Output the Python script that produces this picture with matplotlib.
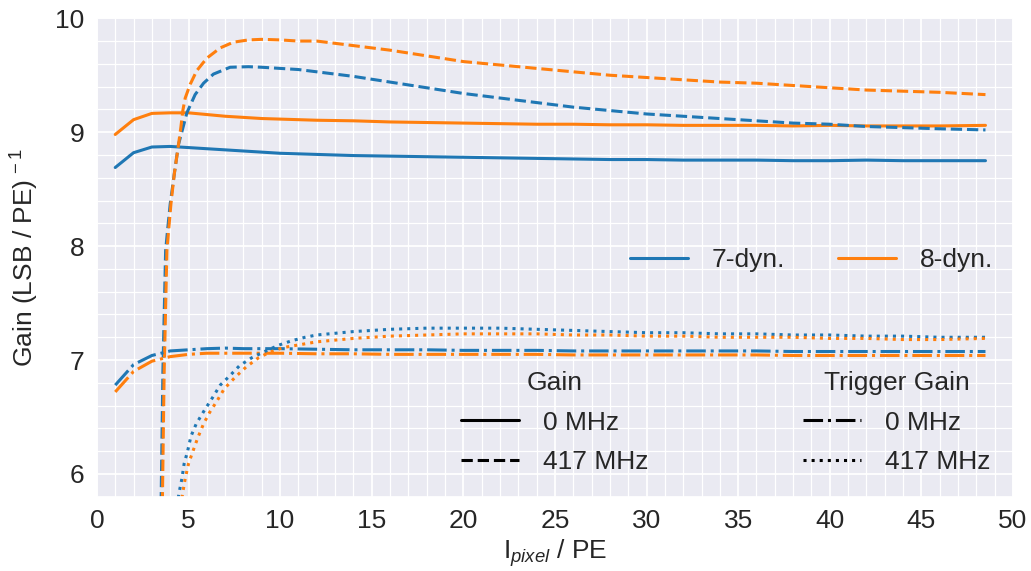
import matplotlib
matplotlib.use("Agg")
import matplotlib.pyplot as plt
from matplotlib.lines import Line2D
from matplotlib.ticker import MultipleLocator
import seaborn as sns

sns.set_theme(style="darkgrid")
plt.rcParams["font.family"] = ["Liberation Sans", "DejaVu Sans"]
plt.rcParams["mathtext.fontset"] = "custom"
plt.rcParams["mathtext.rm"] = "Liberation Sans"
plt.rcParams["mathtext.it"] = "Liberation Sans:italic"

FS = 19
BLUE = "#1f77b4"
ORANGE = "#ff7f0e"

# 0 MHz NSB: gain and trigger gain
x_0mhz = [1, 2, 3, 4, 5, 6, 7, 8, 9, 10, 12, 14, 16, 18, 20, 22, 24, 26, 28,
          30, 32, 34, 36, 38, 40, 42, 44, 46, 48.5]
gain_0_7dyn = [8.69, 8.82, 8.87, 8.875, 8.865, 8.855, 8.845, 8.835, 8.825, 8.815,
               8.805, 8.795, 8.79, 8.785, 8.78, 8.775, 8.77, 8.765, 8.76, 8.76,
               8.755, 8.755, 8.755, 8.75, 8.75, 8.755, 8.75, 8.75, 8.75]
gain_0_8dyn = [8.98, 9.11, 9.165, 9.17, 9.17, 9.155, 9.14, 9.13, 9.12, 9.115,
               9.105, 9.10, 9.09, 9.085, 9.08, 9.075, 9.07, 9.07, 9.065, 9.065,
               9.06, 9.06, 9.06, 9.055, 9.06, 9.055, 9.055, 9.055, 9.06]
trig_0_7dyn = [6.78, 6.96, 7.04, 7.08, 7.09, 7.10, 7.105, 7.10, 7.10, 7.10,
               7.095, 7.09, 7.09, 7.09, 7.085, 7.085, 7.085, 7.08, 7.08, 7.08,
               7.08, 7.08, 7.08, 7.075, 7.075, 7.075, 7.075, 7.075, 7.075]
trig_0_8dyn = [6.72, 6.90, 6.99, 7.03, 7.05, 7.06, 7.06, 7.06, 7.06, 7.06,
               7.055, 7.055, 7.05, 7.05, 7.05, 7.05, 7.05, 7.045, 7.045, 7.045,
               7.045, 7.045, 7.045, 7.04, 7.04, 7.04, 7.04, 7.04, 7.04]

# 417 MHz NSB: gain
x_gain_417_7dyn = [3.49, 3.60, 3.75, 3.85, 4.0, 4.22, 4.45, 4.91, 5.36, 5.82,
                   6.36, 7.27, 8.27, 9, 10, 11, 12, 14, 16, 18, 20, 22, 24, 26,
                   28, 30, 32, 34, 36, 38, 40, 42, 44, 46, 48.5]
gain_417_7dyn = [5.6, 6.89, 7.96, 8.13, 8.37, 8.63, 8.89, 9.17, 9.33, 9.43,
                 9.51, 9.57, 9.575, 9.57, 9.56, 9.55, 9.53, 9.49, 9.44, 9.39,
                 9.34, 9.30, 9.26, 9.22, 9.19, 9.16, 9.14, 9.12, 9.10, 9.08,
                 9.07, 9.05, 9.04, 9.03, 9.02]
x_gain_417_8dyn = [3.56, 3.67, 3.82, 3.91, 4.04, 4.22, 4.40, 4.58, 4.69, 4.82,
                   5.09, 5.45, 6.0, 6.73, 7.45, 8.27, 9, 10, 11, 12, 14, 16, 18,
                   20, 22, 24, 26, 28, 30, 32, 34, 36, 38, 40, 42, 44, 46, 48.5]
gain_417_8dyn = [5.6, 6.89, 7.96, 8.13, 8.37, 8.63, 8.83, 9.04, 9.19, 9.30,
                 9.42, 9.54, 9.65, 9.74, 9.79, 9.81, 9.815, 9.81, 9.80, 9.80,
                 9.76, 9.72, 9.67, 9.62, 9.59, 9.56, 9.53, 9.50, 9.48, 9.46,
                 9.44, 9.43, 9.41, 9.39, 9.37, 9.36, 9.35, 9.33]

# 417 MHz NSB: trigger gain
x_trig_417_7dyn = [4.3, 4.49, 4.64, 4.76, 4.95, 5.13, 5.42, 5.87, 6.31, 6.73,
                   7.24, 7.78, 8.45, 9.09, 9.91, 10.64, 11.36, 12, 14, 16, 18,
                   20, 22, 24, 26, 28, 30, 32, 34, 36, 38, 40, 42, 44, 46, 48.5]
trig_417_7dyn = [5.65, 5.84, 5.96, 6.09, 6.20, 6.33, 6.44, 6.56, 6.67, 6.78,
                 6.86, 6.95, 7.02, 7.07, 7.13, 7.17, 7.20, 7.22, 7.25, 7.27,
                 7.28, 7.28, 7.28, 7.27, 7.26, 7.25, 7.24, 7.24, 7.23, 7.23,
                 7.22, 7.22, 7.21, 7.21, 7.20, 7.20]
x_trig_417_8dyn = [4.5, 4.69, 4.82, 5.0, 5.24, 5.51, 5.82, 6.15, 6.55, 6.96,
                   7.55, 8.15, 8.82, 9.45, 10.18, 11.27, 12, 14, 16, 18, 20, 22,
                   24, 26, 28, 30, 32, 34, 36, 38, 40, 42, 44, 46, 48.5]
trig_417_8dyn = [5.65, 5.84, 5.96, 6.09, 6.20, 6.32, 6.44, 6.54, 6.64, 6.75,
                 6.85, 6.94, 7.02, 7.07, 7.11, 7.14, 7.16, 7.19, 7.21, 7.22,
                 7.23, 7.23, 7.23, 7.22, 7.22, 7.21, 7.21, 7.20, 7.20, 7.20,
                 7.19, 7.19, 7.18, 7.18, 7.19]

fig = plt.figure(figsize=(10.31, 5.71), dpi=100)
ax = fig.add_axes([0.094, 0.13, 0.8885, 0.838])

lw = 2.2
ax.plot(x_0mhz, gain_0_7dyn, color=BLUE, lw=lw, ls="-")
ax.plot(x_0mhz, gain_0_8dyn, color=ORANGE, lw=lw, ls="-")
ax.plot(x_gain_417_7dyn, gain_417_7dyn, color=BLUE, lw=lw, ls="--")
ax.plot(x_gain_417_8dyn, gain_417_8dyn, color=ORANGE, lw=lw, ls="--")
ax.plot(x_0mhz, trig_0_7dyn, color=BLUE, lw=lw, ls="-.")
ax.plot(x_0mhz, trig_0_8dyn, color=ORANGE, lw=lw, ls="-.")
ax.plot(x_trig_417_7dyn, trig_417_7dyn, color=BLUE, lw=lw, ls=":")
ax.plot(x_trig_417_8dyn, trig_417_8dyn, color=ORANGE, lw=lw, ls=":")

ax.set_xlim(0, 50)
ax.set_ylim(5.8, 10)
ax.xaxis.set_major_locator(MultipleLocator(5))
ax.xaxis.set_minor_locator(MultipleLocator(1))
ax.yaxis.set_major_locator(MultipleLocator(1))
ax.yaxis.set_minor_locator(MultipleLocator(0.2))
ax.grid(which="major", color="white", lw=1.3)
ax.grid(which="minor", color="white", lw=0.9)
ax.tick_params(which="both", length=0, labelsize=FS, colors="0.15")
ax.tick_params(axis="x", pad=9)
ax.tick_params(axis="y", pad=9)

ax.set_xlabel(r"I$_{pixel}$ / PE", fontsize=FS, color="0.15", labelpad=3)
ax.set_ylabel(r"Gain (LSB / PE)$^{\,-1}$", fontsize=FS, color="0.15", labelpad=10)

leg_kw = dict(frameon=False, fontsize=FS, handlelength=2.2,
              handletextpad=0.9, loc="center")
col_leg = ax.legend([Line2D([], [], color=BLUE, lw=lw),
                     Line2D([], [], color=ORANGE, lw=lw)],
                    ["7-dyn.", "8-dyn."], ncol=2, columnspacing=2.0,
                    bbox_to_anchor=(0.78, 0.495), **leg_kw)
ax.add_artist(col_leg)

gain_leg = ax.legend([Line2D([], [], color="black", lw=lw, ls="-"),
                      Line2D([], [], color="black", lw=lw, ls="--")],
                     ["0 MHz", "417 MHz"], title="Gain", labelspacing=0.6,
                     title_fontsize=FS, bbox_to_anchor=(0.50, 0.155), **leg_kw)
ax.add_artist(gain_leg)

trig_leg = ax.legend([Line2D([], [], color="black", lw=lw, ls="-."),
                      Line2D([], [], color="black", lw=lw, ls=":")],
                     ["0 MHz", "417 MHz"], title="Trigger Gain", labelspacing=0.6,
                     title_fontsize=FS, bbox_to_anchor=(0.873, 0.155), **leg_kw)

fig.savefig("out.png", dpi=100)
